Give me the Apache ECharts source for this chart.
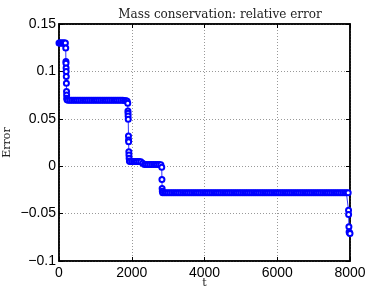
<!DOCTYPE html>
<html>
<head>
<meta charset="utf-8">
<script src="https://cdn.jsdelivr.net/npm/echarts@6/dist/echarts.min.js"></script>
<style>
    html, body {margin: 0; padding: 0; background: #fff;}
    #chart {width: 368px; height: 288px;}
</style>
</head>
<body>
<div id="chart"></div>
<script>
// values, [t, relative error]
var plateau1 = [[0, 0.13], [25, 0.13], [50, 0.13], [75, 0.13], [100, 0.13], [125, 0.13], [150, 0.13], [175, 0.13]];
var drop1 = [[185, 0.1246], [190, 0.1104], [192, 0.1087], [195, 0.1035], [197, 0.0999], [200, 0.0946],
    [203, 0.0876], [207, 0.0787], [210, 0.0752], [213, 0.0717], [220, 0.0700]];
var plateau2 = [[250, 0.0695], [300, 0.0695], [350, 0.0695], [400, 0.0695], [450, 0.0695], [500, 0.0695],
    [550, 0.0695], [600, 0.0695], [650, 0.0695], [700, 0.0695], [750, 0.0695], [800, 0.0695],
    [850, 0.0695], [900, 0.0695], [950, 0.0695], [1000, 0.0695], [1050, 0.0695], [1100, 0.0695],
    [1150, 0.0695], [1200, 0.0695], [1250, 0.0695], [1300, 0.0695], [1350, 0.0695], [1400, 0.0695],
    [1450, 0.0695], [1500, 0.0695], [1550, 0.0695], [1600, 0.0695], [1650, 0.0695], [1700, 0.0695],
    [1750, 0.0695], [1800, 0.0693], [1850, 0.0690], [1875, 0.0685]];
var drop2 = [[1890, 0.0665], [1895, 0.0583], [1898, 0.0559], [1900, 0.0530], [1903, 0.0495], [1910, 0.0319],
    [1913, 0.0277], [1915, 0.0259], [1920, 0.0153], [1923, 0.0118], [1927, 0.0083], [1935, 0.0055]];
var plateau3 = [[1950, 0.0050], [2000, 0.0050], [2050, 0.0050], [2100, 0.0050], [2150, 0.0050],
    [2200, 0.0050], [2250, 0.0048], [2300, 0.0030]];
var plateau4 = [[2350, 0.0018], [2400, 0.0018], [2450, 0.0018], [2500, 0.0018], [2550, 0.0018],
    [2600, 0.0018], [2650, 0.0018], [2700, 0.0018], [2750, 0.0018], [2800, 0.0015]];
var drop3 = [[2825, -0.0010], [2830, -0.0140], [2835, -0.0235], [2840, -0.0265]];
var plateau5 = [[2850, -0.028], [2900, -0.028], [2950, -0.028], [3000, -0.028], [3050, -0.028], [3100, -0.028],
    [3150, -0.028], [3200, -0.028], [3250, -0.028], [3300, -0.028], [3350, -0.028], [3400, -0.028],
    [3450, -0.028], [3500, -0.028], [3550, -0.028], [3600, -0.028], [3650, -0.028], [3700, -0.028],
    [3750, -0.028], [3800, -0.028], [3850, -0.028], [3900, -0.028], [3950, -0.028], [4000, -0.028],
    [4050, -0.028], [4100, -0.028], [4150, -0.028], [4200, -0.028], [4250, -0.028], [4300, -0.028],
    [4350, -0.028], [4400, -0.028], [4450, -0.028], [4500, -0.028], [4550, -0.028], [4600, -0.028],
    [4650, -0.028], [4700, -0.028], [4750, -0.028], [4800, -0.028], [4850, -0.028], [4900, -0.028],
    [4950, -0.028], [5000, -0.028], [5050, -0.028], [5100, -0.028], [5150, -0.028], [5200, -0.028],
    [5250, -0.028], [5300, -0.028], [5350, -0.028], [5400, -0.028], [5450, -0.028], [5500, -0.028],
    [5550, -0.028], [5600, -0.028], [5650, -0.028], [5700, -0.028], [5750, -0.028], [5800, -0.028],
    [5850, -0.028], [5900, -0.028], [5950, -0.028], [6000, -0.028], [6050, -0.028], [6100, -0.028],
    [6150, -0.028], [6200, -0.028], [6250, -0.028], [6300, -0.028], [6350, -0.028], [6400, -0.028],
    [6450, -0.028], [6500, -0.028], [6550, -0.028], [6600, -0.028], [6650, -0.028], [6700, -0.028],
    [6750, -0.028], [6800, -0.028], [6850, -0.028], [6900, -0.028], [6950, -0.028], [7000, -0.028],
    [7050, -0.028], [7100, -0.028], [7150, -0.028], [7200, -0.028], [7250, -0.028], [7300, -0.028],
    [7350, -0.028], [7400, -0.028], [7450, -0.028], [7500, -0.028], [7550, -0.028], [7600, -0.028],
    [7650, -0.028], [7700, -0.028], [7750, -0.028], [7800, -0.028], [7850, -0.028], [7900, -0.028],
    [7950, -0.028]];
var drop4 = [[7960, -0.0464], [7962, -0.0510], [7970, -0.0640], [7975, -0.0693], [7990, -0.0705], [8000, -0.0710]];

var xTicks = [0, 2000, 4000, 6000, 8000];
var yTicks = [-0.1, -0.05, 0, 0.05, 0.1, 0.15];

var errorData = plateau1.concat(drop1, plateau2, drop2, plateau3, plateau4, drop3, plateau5, drop4);

function fmt(v) {
    // MATLAB style minus sign
    return String(v).replace('-', '\u2212');
}

var sansFont = '"Liberation Sans", Arial, sans-serif';
var serifFont = '"DejaVu Serif", "Liberation Serif", serif';

function boxLine() {
    return {show: true, onZero: false, lineStyle: {color: '#000', width: 1.5}};
}
function boxTick() {
    return {show: true, inside: true, length: 4, lineStyle: {color: '#000', width: 1}};
}
function dotGrid() {
    return {show: true, lineStyle: {type: [1, 2], color: '#999', width: 1}};
}

var option = {
    animation: false,
    title: {
        text: 'Mass conservation: relative error',
        left: 215,
        textAlign: 'center',
        top: 4,
        textStyle: {fontFamily: serifFont, fontWeight: 'normal', fontSize: 12, color: '#222'}
    },
    grid: {
        left: 59, right: 18, top: 24, bottom: 27, outerBoundsMode: 'none',
        show: true, borderColor: '#000', borderWidth: 1.5, backgroundColor: 'transparent'
    },
    xAxis: [
        {
            type: 'value',
            min: xTicks[0],
            max: xTicks[xTicks.length - 1],
            interval: 2000,
            name: 't',
            nameLocation: 'middle',
            nameGap: 17,
            nameMoveOverlap: false,
            nameTextStyle: {fontFamily: serifFont, fontSize: 11, color: '#222'},
            axisLine: boxLine(),
            axisTick: boxTick(),
            axisLabel: {fontFamily: sansFont, fontSize: 14, color: '#000', margin: 5, formatter: fmt},
            splitLine: dotGrid()
        },
        {
            type: 'value',
            position: 'top',
            min: xTicks[0],
            max: xTicks[xTicks.length - 1],
            interval: 2000,
            axisLine: boxLine(),
            axisTick: boxTick(),
            axisLabel: {show: false},
            splitLine: {show: false}
        }
    ],
    yAxis: [
        {
            type: 'value',
            min: yTicks[0],
            max: yTicks[yTicks.length - 1],
            interval: 0.05,
            name: 'Error',
            nameLocation: 'middle',
            nameGap: 46,
            nameMoveOverlap: false,
            nameTextStyle: {fontFamily: serifFont, fontSize: 11, color: '#222'},
            axisLine: boxLine(),
            axisTick: boxTick(),
            axisLabel: {fontFamily: sansFont, fontSize: 14, color: '#000', margin: 3, formatter: fmt},
            splitLine: dotGrid()
        },
        {
            type: 'value',
            position: 'right',
            min: yTicks[0],
            max: yTicks[yTicks.length - 1],
            interval: 0.05,
            axisLine: boxLine(),
            axisTick: boxTick(),
            axisLabel: {show: false},
            splitLine: {show: false}
        }
    ],
    series: [
        {
            name: 'Error',
            type: 'line',
            data: errorData,
            symbol: 'emptyCircle',
            symbolSize: 5,
            showAllSymbol: true,
            lineStyle: {color: '#3030ff', width: 1},
            itemStyle: {color: '#0000ff', borderColor: '#0000ff', borderWidth: 2.2}
        }
    ]
};

var myChart = echarts.init(document.getElementById('chart'));
myChart.setOption(option);
</script>
</body>
</html>
